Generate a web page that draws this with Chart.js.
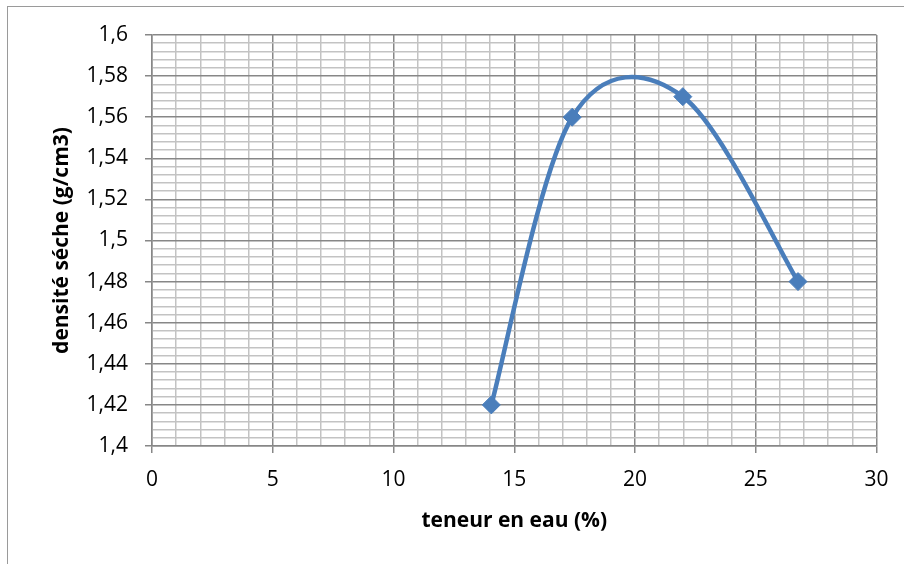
<!DOCTYPE html>
<html>
<head>
<meta charset="utf-8">
<script src="https://cdn.jsdelivr.net/npm/chart.js@4"></script>
<style>
  html, body { margin: 0; padding: 0; background: #fff; overflow: hidden; }
  #wrap { position: relative; width: 904px; height: 564px; }
  #frame { position: absolute; left: 7px; top: 6px; width: 1000px; height: 1000px;
           border: 1.5px solid #9a9a9a; box-sizing: border-box; pointer-events: none; }
  canvas { position: absolute; left: 0; top: 0; }
</style>
</head>
<body>
<div id="wrap">
  <canvas id="c" width="904" height="564"></canvas>
  <div id="frame"></div>
</div>
<script>
// Data
const teneurEau = [14.05, 17.4, 21.98, 26.75];      // x values (%)
const densiteSeche = [1.42, 1.56, 1.57, 1.48];      // y values (g/cm3)
const xTitle = 'teneur en eau (%)';
const yTitle = 'densité séche (g/cm3)';
const xMin = 0, xMax = 30, xMajor = 5, xMinor = 1;
const yMin = 1.4, yMax = 1.6, yMajor = 0.02, yMinor = 0.004;

const points = teneurEau.map((x, i) => ({ x: x, y: densiteSeche[i] }));

const majorColor = '#878787';
const minorColor = '#c3c3c3';
const fontFamily = "'Open Sans', 'Liberation Sans', sans-serif";

function isMajorX(v) { return Math.abs(v / xMajor - Math.round(v / xMajor)) < 1e-6; }
function isMajorY(v) { return Math.abs(v / yMajor - Math.round(v / yMajor)) < 1e-6; }

// Office-style smoothing: uniform Catmull-Rom control points (tangent/6),
// computed from the points Chart.js has already placed on its scales.
const officeSmooth = {
  id: 'officeSmooth',
  beforeDatasetDraw(chart, args) {
    const meta = args.meta;
    const line = meta.dataset;
    if (!line) return;
    if (line.updateControlPoints) line.updateControlPoints(chart.chartArea, meta.iScale ? meta.iScale.axis : 'x');
    const pts = meta.data;
    for (let i = 0; i < pts.length; i++) {
      const p = pts[i];
      const prev = pts[i - 1] || p;
      const next = pts[i + 1] || p;
      const dx = (next.x - prev.x) / 6;
      const dy = (next.y - prev.y) / 6;
      p.cp1x = p.x - dx; p.cp1y = p.y - dy;
      p.cp2x = p.x + dx; p.cp2y = p.y + dy;
    }
    line._path = undefined;
  }
};

new Chart(document.getElementById('c'), {
  type: 'scatter',
  data: {
    datasets: [{
      data: points,
      showLine: true,
      tension: 0.4,
      borderColor: '#4a7ebb',
      backgroundColor: '#4a7ebb',
      borderWidth: 4.5,
      pointStyle: 'rectRot',
      pointRadius: 9,
      pointBorderWidth: 1,
      pointBackgroundColor: '#4a7ebb',
      pointBorderColor: '#4a7ebb',
      clip: false
    }]
  },
  plugins: [officeSmooth],
  options: {
    responsive: false,
    animation: false,
    devicePixelRatio: 1,
    layout: { padding: { top: 35, right: 27.5, left: 0, bottom: 0 } },
    plugins: { legend: { display: false }, tooltip: { enabled: false } },
    scales: {
      x: {
        type: 'linear',
        min: xMin, max: xMax,
        afterFit: (s) => { s.height = 118; },
        ticks: {
          stepSize: xMinor,
          autoSkip: false,
          maxRotation: 0,
          padding: 14,
          color: '#000',
          font: { family: fontFamily, size: 21 },
          callback: (v) => isMajorX(v) ? String(Math.round(v)) : ''
        },
        grid: {
          color: (ctx) => (ctx.tick && isMajorX(ctx.tick.value)) ? majorColor : minorColor,
          tickColor: (ctx) => (ctx.tick && isMajorX(ctx.tick.value)) ? majorColor : 'rgba(0,0,0,0)',
          lineWidth: 1.5,
          tickLength: 7
        },
        border: { color: majorColor, width: 1.5 },
        title: {
          display: true,
          text: xTitle,
          color: '#000',
          font: { family: fontFamily, size: 21, weight: 'bold' },
          padding: { top: 0, bottom: 30 }
        }
      },
      y: {
        type: 'linear',
        min: yMin, max: yMax,
        afterFit: (s) => { s.width = 152; },
        ticks: {
          stepSize: yMinor,
          autoSkip: false,
          padding: 17,
          color: '#000',
          font: { family: fontFamily, size: 21 },
          callback: (v) => isMajorY(v) ? String(Math.round(v * 100) / 100).replace('.', ',') : ''
        },
        grid: {
          color: (ctx) => (ctx.tick && isMajorY(ctx.tick.value)) ? majorColor : minorColor,
          tickColor: (ctx) => (ctx.tick && isMajorY(ctx.tick.value)) ? majorColor : 'rgba(0,0,0,0)',
          lineWidth: 1.5,
          tickLength: 7
        },
        border: { color: majorColor, width: 1.5 },
        title: {
          display: true,
          text: yTitle,
          color: '#000',
          font: { family: fontFamily, size: 21, weight: 'bold' },
          padding: { top: 49, bottom: 0 }
        }
      }
    }
  }
});
</script>
</body>
</html>
